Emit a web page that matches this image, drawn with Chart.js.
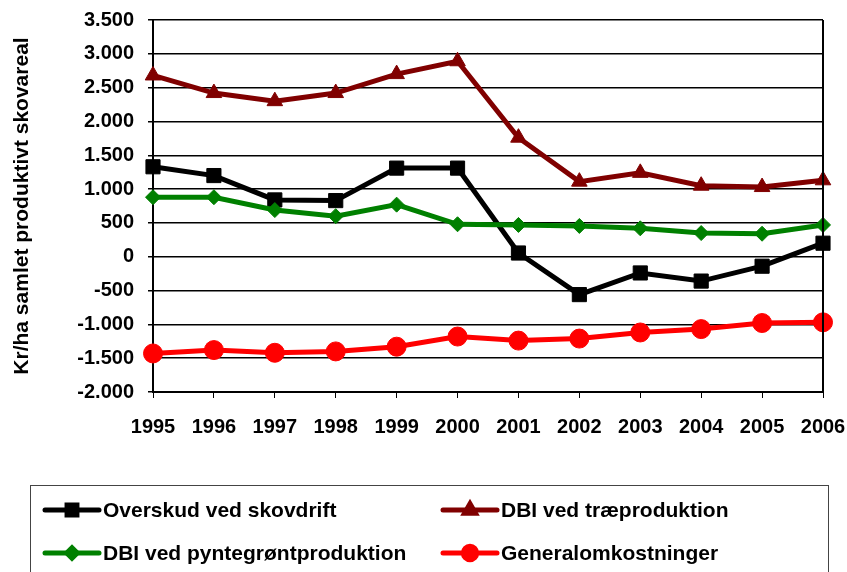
<!DOCTYPE html>
<html>
<head>
<meta charset="utf-8">
<script src="https://cdn.jsdelivr.net/npm/chart.js@4/dist/chart.umd.min.js"></script>
<style>
html,body{margin:0;padding:0;background:#fff;}
#wrap{width:847px;height:572px;position:relative;}
</style>
</head>
<body>
<div id="wrap"><canvas id="c" width="847" height="572"></canvas></div>
<script>
const years = ['1995','1996','1997','1998','1999','2000','2001','2002','2003','2004','2005','2006'];
const overskud = [1330, 1200, 840, 830, 1310, 1310, 55, -560, -240, -360, -140, 200];
const dbiTrae = [2680, 2420, 2300, 2420, 2700, 2890, 1760, 1110, 1240, 1050, 1030, 1130];
const dbiPynt = [880, 880, 690, 600, 770, 480, 470, 455, 420, 350, 340, 470];
const generalomk = [-1430, -1380, -1420, -1400, -1330, -1180, -1240, -1210, -1120, -1070, -980, -970];
const seriesNames = ['Overskud ved skovdrift', 'DBI ved træproduktion', 'DBI ved pyntegrøntproduktion', 'Generalomkostninger'];
const yTitle = 'Kr/ha samlet produktivt skovareal';
const yMin = -2000, yMax = 3500, yStep = 500;

const FONT = '"Liberation Sans", Arial, sans-serif';

function fmt(v){
  const neg = v < 0;
  let s = Math.abs(Math.round(v)).toString();
  s = s.replace(/\B(?=(\d{3})+(?!\d))/g, '.');
  return (neg ? '-' : '') + s;
}

const styles = [
  {color:'#000000', pointStyle:'rect', radius:10},
  {color:'#800000', pointStyle:'triangle', radius:9},
  {color:'#008000', pointStyle:'rectRot', radius:7.5},
  {color:'#ff0000', pointStyle:'circle', radius:9.5}
];
const seriesData = [overskud, dbiTrae, dbiPynt, generalomk];

const datasets = seriesData.map((d,i)=>({
  label: seriesNames[i],
  data: d,
  borderColor: styles[i].color,
  backgroundColor: styles[i].color,
  borderWidth: 5,
  pointStyle: styles[i].pointStyle,
  pointRadius: styles[i].radius,
  pointHoverRadius: styles[i].radius,
  pointBorderWidth: 1,
  pointBorderColor: styles[i].color,
  pointBackgroundColor: styles[i].color,
  tension: 0,
  order: 4 - i
}));

const frameAndLegend = {
  id: 'frameAndLegend',
  afterDatasetsDraw(chart){
    const ctx = chart.ctx;
    const a = chart.chartArea;
    ctx.save();
    ctx.strokeStyle = '#000';
    ctx.lineWidth = 2;
    ctx.beginPath();
    ctx.moveTo(a.right, a.top);
    ctx.lineTo(a.right, a.bottom);
    ctx.stroke();
    ctx.restore();
  },
  afterDraw(chart){
    const ctx = chart.ctx;
    ctx.save();
    ctx.strokeStyle = '#444';
    ctx.lineWidth = 1;
    ctx.strokeRect(30.5, 485.5, 798, 100);
    const pos = [[45,510],[443,510],[45,553],[443,553]];
    ctx.font = 'bold 21px ' + FONT;
    ctx.textBaseline = 'middle';
    ctx.textAlign = 'left';
    seriesNames.forEach((name,i)=>{
      const [x,y] = pos[i];
      const st = styles[i];
      ctx.strokeStyle = st.color;
      ctx.lineWidth = 5;
      ctx.lineCap = 'round';
      ctx.beginPath();
      ctx.moveTo(x, y);
      ctx.lineTo(x+54, y);
      ctx.stroke();
      ctx.fillStyle = st.color;
      Chart.helpers.drawPoint(ctx, {pointStyle: st.pointStyle, radius: st.radius*0.7, rotation:0, borderWidth:1}, x+27, y);
      ctx.fillStyle = '#000';
      ctx.fillText(name, x+58, y+1);
    });
    ctx.restore();
  }
};

new Chart(document.getElementById('c'), {
  type: 'line',
  data: { labels: years, datasets },
  plugins: [frameAndLegend],
  options: {
    responsive: false,
    animation: false,
    events: [],
    layout: { padding: { left: 4, top: 20, right: 24, bottom: 120 } },
    plugins: { legend: { display: false }, tooltip: { enabled: false } },
    scales: {
      x: {
        offset: false,
        grid: { display: true, drawOnChartArea: false, drawTicks: true, tickLength: 6, color: '#000', lineWidth: 1 },
        border: { display: true, color: '#000', width: 2 },
        ticks: { color: '#000', font: { family: FONT, size: 20, weight: 'bold' }, padding: 17, maxRotation: 0, autoSkip: false },
        afterFit(scale){ scale.height = 60; scale.paddingLeft = 0; scale.paddingRight = 0; }
      },
      y: {
        min: yMin, max: yMax,
        ticks: { stepSize: yStep, color: '#000', font: { family: FONT, size: 20, weight: 'bold' }, padding: 14, callback: (v)=>fmt(v) },
        grid: { color: '#000', lineWidth: 1.5, tickLength: 5 },
        border: { display: true, color: '#000', width: 2 },
        title: { display: true, text: yTitle, color: '#000', font: { family: FONT, size: 21, weight: 'bold' }, padding: { top: 6, bottom: 0 } },
        afterFit(scale){ scale.width = 149; scale.paddingTop = 0; scale.paddingBottom = 0; }
      }
    }
  }
});
</script>
</body>
</html>
